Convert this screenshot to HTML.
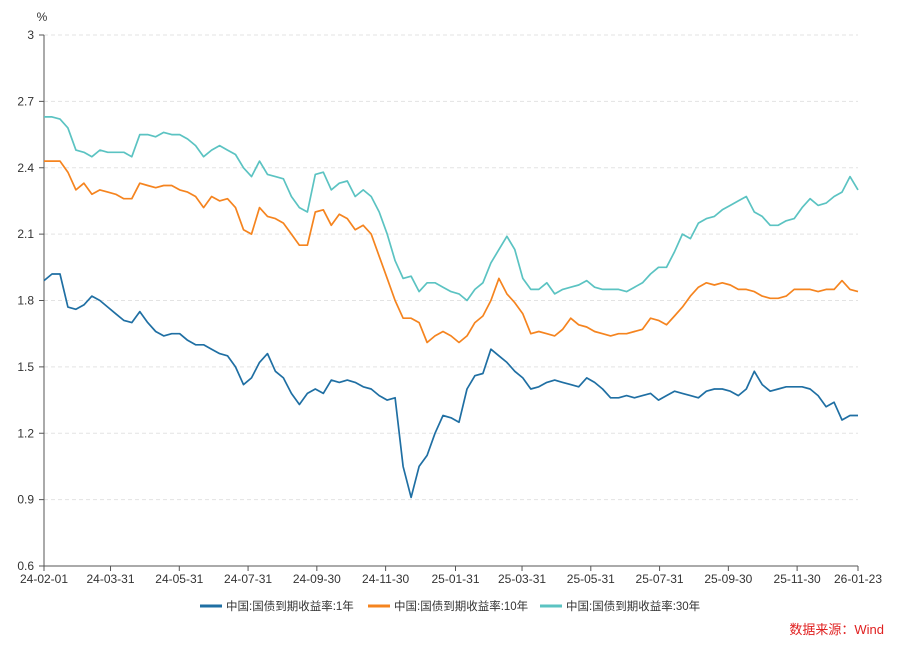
<!DOCTYPE html>
<html><head><meta charset="utf-8"><style>
body{margin:0;background:#fff;width:900px;height:641px;overflow:hidden;font-family:"Liberation Sans","Noto Sans CJK SC",sans-serif}
svg text{font-family:"Liberation Sans","Noto Sans CJK SC",sans-serif}
</style></head><body>
<svg id="chart" width="900" height="641" xmlns="http://www.w3.org/2000/svg"></svg>
<script>
const yTicks=[0.6,0.9,1.2,1.5,1.8,2.1,2.4,2.7,3];
const xTickLabels=["24-02-01","24-03-31","24-05-31","24-07-31","24-09-30","24-11-30","25-01-31","25-03-31","25-05-31","25-07-31","25-09-30","25-11-30","26-01-23"];
const seriesNames=["中国:国债到期收益率:1年","中国:国债到期收益率:10年","中国:国债到期收益率:30年"];
const y1=[1.89,1.92,1.92,1.77,1.76,1.78,1.82,1.80,1.77,1.74,1.71,1.70,1.75,1.70,1.66,1.64,1.65,1.65,1.62,1.60,1.60,1.58,1.56,1.55,1.50,1.42,1.45,1.52,1.56,1.48,1.45,1.38,1.33,1.38,1.40,1.38,1.44,1.43,1.44,1.43,1.41,1.40,1.37,1.35,1.36,1.05,0.91,1.05,1.10,1.20,1.28,1.27,1.25,1.40,1.46,1.47,1.58,1.55,1.52,1.48,1.45,1.40,1.41,1.43,1.44,1.43,1.42,1.41,1.45,1.43,1.40,1.36,1.36,1.37,1.36,1.37,1.38,1.35,1.37,1.39,1.38,1.37,1.36,1.39,1.40,1.40,1.39,1.37,1.40,1.48,1.42,1.39,1.40,1.41,1.41,1.41,1.40,1.37,1.32,1.34,1.26,1.28,1.28];
const y10=[2.43,2.43,2.43,2.38,2.30,2.33,2.28,2.30,2.29,2.28,2.26,2.26,2.33,2.32,2.31,2.32,2.32,2.30,2.29,2.27,2.22,2.27,2.25,2.26,2.22,2.12,2.10,2.22,2.18,2.17,2.15,2.10,2.05,2.05,2.20,2.21,2.14,2.19,2.17,2.12,2.14,2.10,2.00,1.90,1.80,1.72,1.72,1.70,1.61,1.64,1.66,1.64,1.61,1.64,1.70,1.73,1.80,1.90,1.83,1.79,1.74,1.65,1.66,1.65,1.64,1.67,1.72,1.69,1.68,1.66,1.65,1.64,1.65,1.65,1.66,1.67,1.72,1.71,1.69,1.73,1.77,1.82,1.86,1.88,1.87,1.88,1.87,1.85,1.85,1.84,1.82,1.81,1.81,1.82,1.85,1.85,1.85,1.84,1.85,1.85,1.89,1.85,1.84];
const y30=[2.63,2.63,2.62,2.58,2.48,2.47,2.45,2.48,2.47,2.47,2.47,2.45,2.55,2.55,2.54,2.56,2.55,2.55,2.53,2.50,2.45,2.48,2.50,2.48,2.46,2.40,2.36,2.43,2.37,2.36,2.35,2.27,2.22,2.20,2.37,2.38,2.30,2.33,2.34,2.27,2.30,2.27,2.20,2.10,1.98,1.90,1.91,1.84,1.88,1.88,1.86,1.84,1.83,1.80,1.85,1.88,1.97,2.03,2.09,2.03,1.90,1.85,1.85,1.88,1.83,1.85,1.86,1.87,1.89,1.86,1.85,1.85,1.85,1.84,1.86,1.88,1.92,1.95,1.95,2.02,2.10,2.08,2.15,2.17,2.18,2.21,2.23,2.25,2.27,2.20,2.18,2.14,2.14,2.16,2.17,2.22,2.26,2.23,2.24,2.27,2.29,2.36,2.30];
const colors=["#1f6fa3","#f5841f","#5bc3c2"];
const L=44,R=858,T=35,B=566;
const start=new Date("2024-02-01"),end=new Date("2026-01-23");
const totalDays=(end-start)/864e5;
const ys=v=>B-(v-0.6)/(3-0.6)*(B-T);
const xd=s=>{const d=new Date("20"+s);return L+((d-start)/864e5)/totalDays*(R-L);};
const xi=(i,n)=>L+i/(n-1)*(R-L);
const svg=document.getElementById('chart');const NS="http://www.w3.org/2000/svg";
function mk(t,a,p){const e=document.createElementNS(NS,t);for(const k in a)e.setAttribute(k,a[k]);(p||svg).appendChild(e);return e;}
yTicks.forEach(v=>{
 if(v>0.6){const g=mk('line',{x1:L,x2:R,y1:ys(v),y2:ys(v),stroke:'#e3e3e3','stroke-dasharray':'4,3'});
 
 }
 const t=mk('text',{x:L-10,y:ys(v)+4,'text-anchor':'end','font-size':12,fill:'#333'});t.textContent=v;
 
 
 mk('line',{x1:L-5,x2:L,y1:ys(v),y2:ys(v),stroke:'#555'});
});
const ax=mk('line',{x1:L,x2:L,y1:T,y2:B,stroke:'#555'});


const xa=mk('line',{x1:L,x2:R,y1:B,y2:B,stroke:'#555'});


xTickLabels.forEach(s=>{const x=xd(s);mk('line',{x1:x,x2:x,y1:B,y2:B+5,stroke:'#555'});
 const t=mk('text',{x:x,y:B+17,'text-anchor':'middle','font-size':12,fill:'#333'});t.textContent=s;
 
 });
const unit=mk('text',{x:42,y:21,'text-anchor':'middle','font-size':12,fill:'#333'});unit.textContent='%';


[y1,y10,y30].forEach((arr,si)=>{
 const d=arr.map((v,i)=>(i?'L':'M')+xi(i,arr.length).toFixed(1)+','+ys(v).toFixed(1)).join('');
 const p=mk('path',{d:d,fill:'none',stroke:colors[si],'stroke-width':1.7,'stroke-linejoin':'round'});
 
 
});
const lx=[200,368,540];
seriesNames.forEach((n,i)=>{
 const g=mk('g',{});
 
 
 mk('line',{x1:lx[i],x2:lx[i]+22,y1:606,y2:606,stroke:colors[i],'stroke-width':3},g);
 const t=mk('text',{x:lx[i]+26,y:610,'font-size':11.5,fill:'#333'},g);t.textContent=n;
});
const src=mk('text',{x:884,y:634,'text-anchor':'end','font-size':13,fill:'#e02020'});src.textContent='数据来源：Wind';


</script>
</body></html>
